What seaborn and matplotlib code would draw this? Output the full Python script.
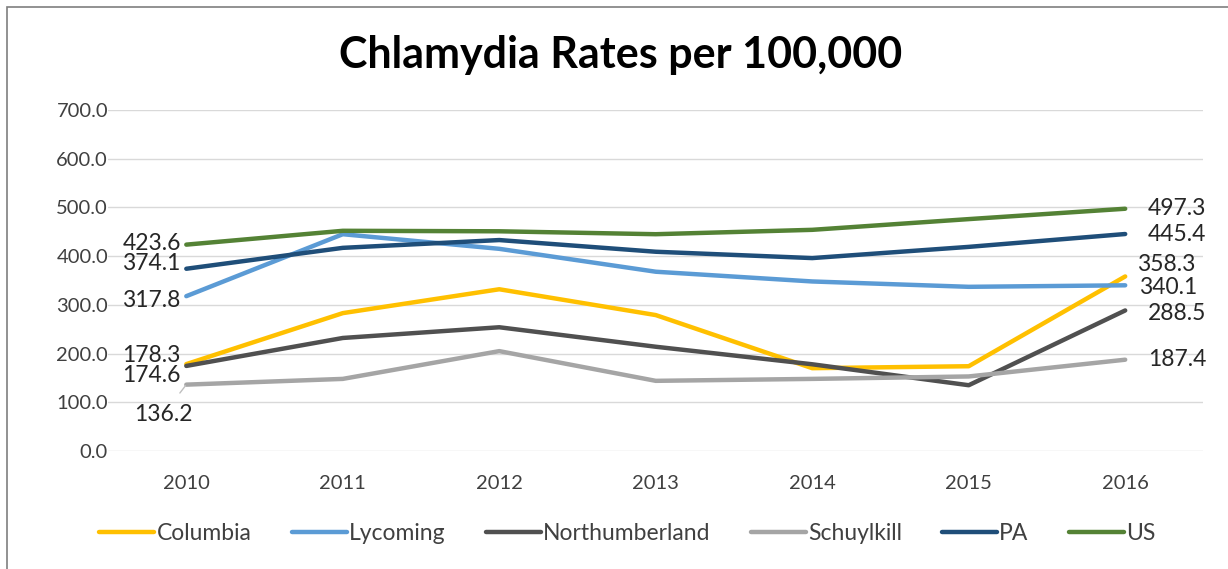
import matplotlib
matplotlib.use("Agg")
import matplotlib.pyplot as plt
import seaborn as sns
import pandas as pd
from matplotlib.patches import Rectangle

years = ["2010", "2011", "2012", "2013", "2014", "2015", "2016"]
columbia = [178.3, 283, 332, 279, 170, 174, 358.3]
lycoming = [317.8, 445, 415, 368, 348, 337, 340.1]
northumberland = [174.6, 232, 254, 214, 178, 135, 288.5]
schuylkill = [136.2, 148, 205, 144, 148, 153, 187.4]
pa = [374.1, 417, 433, 409, 396, 419, 445.4]
us = [423.6, 452, 451, 445, 454, 476, 497.3]

series = {"Columbia": columbia, "Lycoming": lycoming, "Northumberland": northumberland,
          "Schuylkill": schuylkill, "PA": pa, "US": us}
colors = {"Columbia": "#FFC000", "Lycoming": "#5B9BD5", "Northumberland": "#505050",
          "Schuylkill": "#A5A5A5", "PA": "#1F4E79", "US": "#548235"}

rows = []
for name, vals in series.items():
    for i, (y, v) in enumerate(zip(years, vals)):
        rows.append({"idx": i, "Year": y, "Series": name, "Rate": v})
df = pd.DataFrame(rows)

sns.set_theme(style="white")
plt.rcParams["font.family"] = ["Lato", "DejaVu Sans"]

fig = plt.figure(figsize=(12.28, 5.69), dpi=100)
ax = fig.add_axes([0.088, 0.2074, 0.892, 0.5993])

sns.lineplot(data=df, x="idx", y="Rate", hue="Series", palette=colors, linewidth=3.2,
             ax=ax, legend=True, sort=False, solid_capstyle="round")

ax.set_xlim(-0.5, 6.5)
ax.set_ylim(0, 700)
ax.set_yticks(range(0, 701, 100))
ax.set_yticklabels([f"{v:.1f}" for v in range(0, 701, 100)], fontsize=14.5, color="#404040")
ax.set_xticks(range(len(years)))
ax.set_xticklabels(years, fontsize=14.5, color="#404040")
ax.tick_params(axis="both", length=0)
ax.tick_params(axis="x", pad=17)
ax.tick_params(axis="y", pad=0)
ax.set_xlabel("")
ax.set_ylabel("")
ax.grid(axis="y", color="#D9D9D9", linewidth=1)
ax.set_axisbelow(True)
for s in ax.spines.values():
    s.set_visible(False)

LBL = 16.5
# data labels (offsets in points)
left_off = {"US": (-4, 1), "PA": (-4, 3.5), "Lycoming": (-4, -3), "Columbia": (-4, 6.5),
            "Northumberland": (-4, -7)}
for name, (dx, dy) in left_off.items():
    v = series[name][0]
    ax.annotate(f"{v:.1f}", (0, v), xytext=(dx, dy), textcoords="offset points",
                ha="right", va="center", fontsize=LBL, color="#262626")
ax.annotate(f"{schuylkill[0]:.1f}", (0, schuylkill[0]), xytext=(-16.5, -21.5), textcoords="offset points",
            ha="center", va="center", fontsize=LBL, color="#262626",
            arrowprops=dict(arrowstyle="-", color="#BFBFBF", lw=1.0, shrinkA=7, shrinkB=1))

right_off = {"US": (16.5, 0), "PA": (16.5, 0), "Columbia": (8.6, 8.6), "Lycoming": (10, -1.5),
             "Northumberland": (16.5, -2), "Schuylkill": (16.5, 0)}
for name, (dx, dy) in right_off.items():
    v = series[name][-1]
    ax.annotate(f"{v:.1f}", (6, v), xytext=(dx, dy), textcoords="offset points",
                ha="left", va="center", fontsize=LBL, color="#262626")

handles, labels = ax.get_legend_handles_labels()
ax.legend_.remove()
fig.legend(handles, labels, loc="center", bbox_to_anchor=(0.511, 0.063), ncol=6, frameon=False,
           fontsize=16.5, handlelength=2.4, handletextpad=0.1, columnspacing=1.75,
           labelcolor="#404040")

fig.suptitle("Chlamydia Rates per 100,000", x=0.505, y=0.903, va="center", fontsize=31,
             fontweight="bold", color="#000000")

fig.patches.append(Rectangle((0.006, -0.05), 1.1, 1.038, transform=fig.transFigure,
                             fill=False, edgecolor="#7F7F7F", linewidth=1.2))

fig.savefig("out.png", dpi=100)
